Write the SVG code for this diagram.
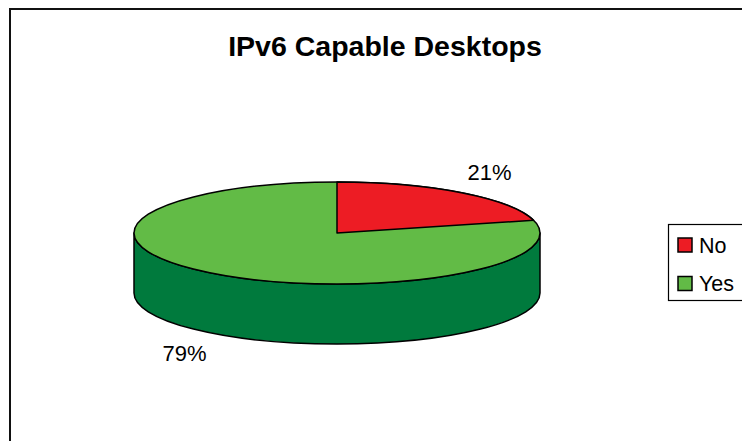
<svg xmlns="http://www.w3.org/2000/svg" width="742" height="441" viewBox="0 0 742 441">
  <style>
    .txt { font-family: "Liberation Sans", Arial, sans-serif; fill: #000; }
    .title { font-size: 28.5px; font-weight: bold; }
    .lbl { font-size: 22px; }
    .leg { font-size: 21.5px; }
    .edge { stroke: #000; stroke-width: 1.5; stroke-linejoin: round; }
    .no { fill: #ED1C24; }
    .yes { fill: #62BB46; }
    .yesSide { fill: #007A3D; }
  </style>

  <rect x="0" y="0" width="742" height="441" fill="#fff"/>

  <!-- chart area frame (open to the right and bottom) -->
  <rect id="frame" x="10" y="9" width="760" height="460" fill="none" stroke="#111" stroke-width="2"/>

  <g id="title">
    <text class="txt title" x="385" y="56" text-anchor="middle">IPv6 Capable Desktops</text>
  </g>

  <!-- 3D pie: cx=337 cy=233 rx=203 ry=51 depth=60 -->
  <g id="pie">
    <path id="pie-side" class="yesSide edge"
          d="M134,233 L134,293 A203,51 0 0 0 540,293 L540,233 A203,51 0 0 1 134,233 Z"/>
    <ellipse id="slice-yes" class="yes edge" cx="337" cy="233" rx="203" ry="51"/>
    <path id="slice-no" class="no edge" d="M337,233 L337,182 A203,51 0 0 1 533.6,220.3 Z"/>
  </g>

  <g id="labels">
    <text class="txt lbl" x="489.5" y="179.5" text-anchor="middle">21%</text>
    <text class="txt lbl" x="184.5" y="361" text-anchor="middle">79%</text>
  </g>

  <g id="legend">
    <rect x="668.5" y="224.5" width="90" height="76" fill="#fff" stroke="#000" stroke-width="1.2"/>
    <g id="legend-no">
      <rect class="no" x="678" y="238" width="14" height="14" stroke="#000" stroke-width="1.5"/>
      <text class="txt leg" x="699" y="252.5">No</text>
    </g>
    <g id="legend-yes">
      <rect class="yes" x="678" y="276.5" width="14" height="14" stroke="#000" stroke-width="1.5"/>
      <text class="txt leg" x="699" y="291">Yes</text>
    </g>
  </g>
</svg>
